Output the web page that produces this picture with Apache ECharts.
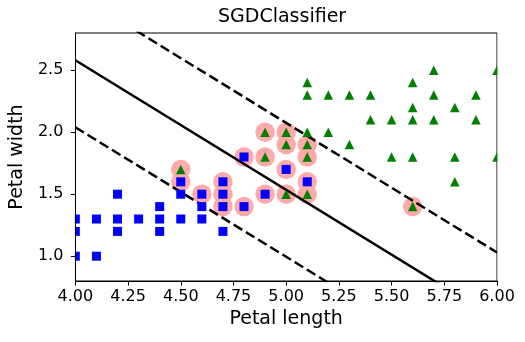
<!DOCTYPE html>
<html>
<head>
<meta charset="utf-8">
<script src="https://cdn.jsdelivr.net/npm/echarts@6/dist/echarts.min.js"></script>
<style>
  html, body { margin: 0; padding: 0; background: #fff; }
  #chart { width: 525px; height: 342px; }
</style>
</head>
<body>
<div id="chart"></div>
<script>
// Iris versicolor (petal length, petal width)
const versicolorLength = [4.0, 4.0, 4.0, 4.1, 4.1, 4.2, 4.2, 4.2, 4.3, 4.4, 4.4, 4.4, 4.5, 4.5, 4.5,
  4.6, 4.6, 4.6, 4.7, 4.7, 4.7, 4.7, 4.8, 4.8, 4.9, 5.0, 5.1];
const versicolorWidth = [1.3, 1.2, 1.0, 1.3, 1.0, 1.5, 1.3, 1.2, 1.3, 1.4, 1.3, 1.2, 1.6, 1.5, 1.3,
  1.5, 1.4, 1.3, 1.6, 1.5, 1.4, 1.2, 1.8, 1.4, 1.5, 1.7, 1.6];

// Iris virginica (petal length, petal width)
const virginicaLength = [4.5, 4.9, 4.9, 5.0, 5.0, 5.0, 5.1, 5.1, 5.1, 5.1, 5.1, 5.1, 5.2, 5.2, 5.3, 5.3,
  5.4, 5.4, 5.5, 5.5, 5.6, 5.6, 5.6, 5.6, 5.6, 5.7, 5.7, 5.7, 5.8, 5.8, 5.8, 5.9, 5.9, 6.0, 6.0];
const virginicaWidth = [1.7, 2.0, 1.8, 2.0, 1.9, 1.5, 2.4, 2.3, 2.0, 1.9, 1.8, 1.5, 2.3, 2.0, 2.3, 1.9,
  2.3, 2.1, 2.1, 1.8, 2.4, 2.2, 2.1, 1.8, 1.4, 2.5, 2.3, 2.1, 2.2, 1.8, 1.6, 2.3, 2.1, 2.5, 1.8];

// Samples lying inside the margin
const supportLength = [4.5, 4.5, 4.6, 4.7, 4.7, 4.7, 4.8, 4.8, 4.9, 4.9, 4.9, 5.0, 5.0, 5.0, 5.0,
  5.1, 5.1, 5.1, 5.1, 5.6];
const supportWidth = [1.7, 1.6, 1.5, 1.6, 1.5, 1.4, 1.8, 1.4, 2.0, 1.8, 1.5, 2.0, 1.9, 1.7, 1.5,
  1.9, 1.8, 1.6, 1.5, 1.4];

// Decision boundary and margin lines (end points)
const lineX = [4.0, 6.0];
const boundaryY = [2.58, 0.49];
const gutterUpY = [3.12, 1.03];
const gutterDownY = [2.04, -0.05];

// Axis ticks
const xTicks = [4.0, 4.25, 4.5, 4.75, 5.0, 5.25, 5.5, 5.75, 6.0];
const yTicks = [1.0, 1.5, 2.0, 2.5];

const zip = (xs, ys) => xs.map((x, i) => [x, ys[i]]);

const FONT = 'DejaVu Sans';
const chart = echarts.init(document.getElementById('chart'), null, { renderer: 'canvas' });

const lineSeries = (ys, dashed) => ({
  type: 'line',
  data: zip(lineX, ys),
  showSymbol: false,
  symbol: 'none',
  silent: true,
  clip: true,
  lineStyle: { color: '#000', width: 2.5, opacity: 1, type: dashed ? [10, 4.3] : 'solid', cap: 'butt' },
  z: 3,
  animation: false
});

const option = {
  animation: false,
  backgroundColor: '#fff',
  title: {
    text: 'SGDClassifier',
    left: 218,
    top: 8,
    padding: 0,
    textStyle: { fontFamily: FONT, fontSize: 19, fontWeight: 'normal', color: '#000' }
  },
  grid: {
    left: 71, right: 28, top: 33, bottom: 61,
    show: true, borderColor: '#000', borderWidth: 1, backgroundColor: 'transparent'
  },
  xAxis: {
    type: 'value',
    min: xTicks[0], max: xTicks[xTicks.length - 1], interval: 0.25,
    z: 10,
    name: 'Petal length',
    nameLocation: 'middle',
    nameGap: 28,
    nameTextStyle: { fontFamily: FONT, fontSize: 19, color: '#000' },
    axisLine: { show: true, onZero: false, lineStyle: { color: '#000', width: 1 } },
    axisTick: { show: true, inside: false, length: 4.5, lineStyle: { color: '#000', width: 1 } },
    axisLabel: {
      fontFamily: FONT, fontSize: 16, color: '#000', margin: 8,
      showMinLabel: true, showMaxLabel: true,
      formatter: v => v.toFixed(2)
    },
    splitLine: { show: false }
  },
  yAxis: {
    type: 'value',
    min: 0.8, max: 2.8,
    z: 10,
    name: 'Petal width',
    nameLocation: 'middle',
    nameGap: 44,
    nameTextStyle: { fontFamily: FONT, fontSize: 19, color: '#000' },
    axisLine: { show: true, onZero: false, lineStyle: { color: '#000', width: 1 } },
    axisTick: { show: true, inside: false, length: 4.5, customValues: yTicks, lineStyle: { color: '#000', width: 1 } },
    axisLabel: {
      fontFamily: FONT, fontSize: 16, color: '#000', margin: 12,
      customValues: yTicks,
      formatter: v => v.toFixed(1)
    },
    splitLine: { show: false }
  },
  series: [
    {
      name: 'support',
      type: 'scatter',
      data: zip(supportLength, supportWidth),
      symbol: 'circle',
      symbolSize: 19.5,
      itemStyle: { color: '#FFAAAA', opacity: 1 },
      z: 2
    },
    lineSeries(boundaryY, false),
    lineSeries(gutterUpY, true),
    lineSeries(gutterDownY, true),
    {
      name: 'Iris virginica',
      type: 'scatter',
      data: zip(virginicaLength, virginicaWidth),
      symbol: 'triangle',
      symbolSize: [9.5, 9.5],
      itemStyle: { color: '#008000', opacity: 1 },
      z: 4
    },
    {
      name: 'Iris versicolor',
      type: 'scatter',
      data: zip(versicolorLength, versicolorWidth),
      symbol: 'rect',
      symbolSize: 9,
      itemStyle: { color: '#0000ff', opacity: 1 },
      z: 5
    }
  ]
};

chart.setOption(option);

// White masks just outside the plot area so markers sitting on the frame are cut at its edge
const p0 = chart.convertToPixel({ gridIndex: 0 }, [xTicks[0], 2.8]);
const p1 = chart.convertToPixel({ gridIndex: 0 }, [xTicks[xTicks.length - 1], 0.8]);
chart.setOption({
  graphic: [
    { type: 'rect', silent: true, z: 6, shape: { x: p0[0] - 14, y: p0[1] - 4, width: 13.5, height: p1[1] - p0[1] + 8 }, style: { fill: '#fff' } },
    { type: 'rect', silent: true, z: 6, shape: { x: p1[0] + 0.5, y: p0[1] - 4, width: 14, height: p1[1] - p0[1] + 8 }, style: { fill: '#fff' } }
  ]
});
</script>
</body>
</html>
